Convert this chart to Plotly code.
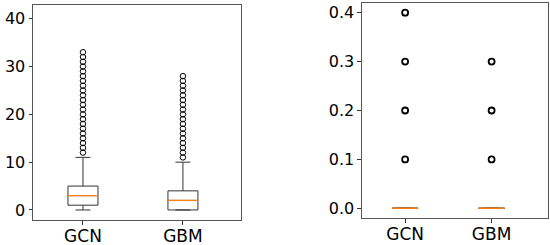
import plotly.graph_objects as go

# box statistics
models = ["GCN", "GBM"]
positions = [1, 2]

left_q1 = [1, 0]
left_median = [3, 2]
left_q3 = [5, 4]
left_low = [0, 0]
left_high = [11, 10]
left_outliers = [
    list(range(12, 34)),   # GCN
    list(range(11, 29)),   # GBM
]

right_q1 = [0, 0]
right_median = [0, 0]
right_q3 = [0, 0]
right_low = [0, 0]
right_high = [0, 0]
right_outliers = [
    [0.1, 0.2, 0.3, 0.4],
    [0.1, 0.2, 0.3],
]

BOX_W = 0.3
EDGE = "#333333"
MEDIAN = "#ff7f0e"
FONT = "DejaVu Sans"

fig = go.Figure()


def add_panel(xa, ya, q1, med, q3, lo, hi, outl, mk_size, mk_w):
    for i, pos in enumerate(positions):
        fig.add_trace(go.Box(
            x=[pos], q1=[q1[i]], median=[med[i]], q3=[q3[i]],
            lowerfence=[lo[i]], upperfence=[hi[i]],
            width=BOX_W, whiskerwidth=0.5,
            fillcolor="rgba(0,0,0,0)", line=dict(color=EDGE, width=1),
            xaxis=xa, yaxis=ya, showlegend=False, hoverinfo="skip",
        ))
        # orange median line on top of the box
        fig.add_trace(go.Scatter(
            x=[pos - BOX_W / 2, pos + BOX_W / 2], y=[med[i], med[i]],
            mode="lines", line=dict(color=MEDIAN, width=1.3),
            xaxis=xa, yaxis=ya, showlegend=False, hoverinfo="skip",
        ))
        # fliers
        fig.add_trace(go.Scatter(
            x=[pos] * len(outl[i]), y=outl[i], mode="markers",
            marker=dict(symbol="circle-open", size=mk_size, color="black",
                        line=dict(width=mk_w)),
            xaxis=xa, yaxis=ya, showlegend=False,
        ))


add_panel("x", "y", left_q1, left_median, left_q3, left_low, left_high,
          left_outliers, 5.5, 1)
add_panel("x2", "y2", right_q1, right_median, right_q3, right_low, right_high,
          right_outliers, 6, 1.8)

axis_common = dict(
    showgrid=False, zeroline=False, showline=True, mirror=True,
    linecolor="#555555", linewidth=1, ticks="outside", ticklen=3.5,
    tickcolor="#333333", automargin=False,
)
xfont = dict(family=FONT, size=17, color="black")
yfont = dict(family=FONT, size=16, color="black")

fig.update_layout(
    width=550, height=245,
    margin=dict(l=0, r=0, t=0, b=0),
    paper_bgcolor="white", plot_bgcolor="white",
    font=dict(family=FONT, color="black"),
    xaxis=dict(domain=[0.06, 0.438], range=[0.5, 2.58], tickmode="array",
               tickvals=positions, ticktext=models, anchor="y",
               tickfont=xfont, ticklabelstandoff=-3, **axis_common),
    yaxis=dict(domain=[0.102, 0.98], range=[-2.1, 42.9], tickvals=[0, 10, 20, 30, 40],
               anchor="x", tickfont=yfont, **axis_common),
    xaxis2=dict(domain=[0.658, 0.996], range=[0.5, 2.65], tickmode="array",
                tickvals=positions, ticktext=models, anchor="y2",
                tickfont=xfont, ticklabelstandoff=-3, **axis_common),
    yaxis2=dict(domain=[0.11, 0.988], range=[-0.02, 0.42],
                tickvals=[0, 0.1, 0.2, 0.3, 0.4], tickformat=".1f",
                anchor="x2", tickfont=yfont, **axis_common),
)

# drop the browser's default 8px body margin so the figure sits at (0, 0)
fig.write_html("out.html", config={"displayModeBar": False},
               post_script="document.body.style.margin='0';")
